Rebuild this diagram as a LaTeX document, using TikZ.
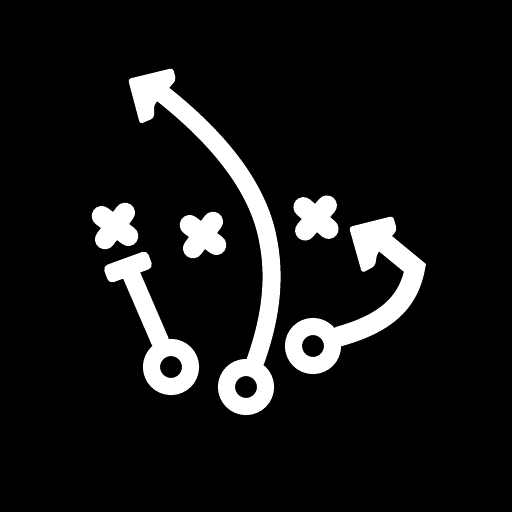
\documentclass[tikz,border=0pt]{standalone}
\usepackage{tikz}
\usetikzlibrary{shapes.misc}

\begin{document}
\begin{tikzpicture}[x=0.01cm, y=-0.01cm,
    ring/.style={draw=white, circle, line width=0.17cm, minimum size=0.39cm, inner sep=0pt},
    mark x/.style={draw=white, cross out, line width=0.2cm, line cap=round, minimum size=0.235cm, inner sep=0pt, outer sep=0pt},
    tbar/.style={fill=white, rounded corners=0.05cm, minimum width=0.47cm, minimum height=0.185cm, inner sep=0pt},
    route/.style={draw=white, line width=0.18cm, line cap=round, miter limit=10},
    tip/.style={fill=white, rounded corners=0.03cm},
  ]
    % Background
    \fill[black] (0,0) rectangle (512,512);

    % Defenders
    \foreach \i/\x/\y/\r in {a/115/226/8, b/203/235/8, c/316/218/4} {
      \node[mark x, rotate=\r] (mark\i) at (\x,\y) {};
    }

    % Players
    \node[ring] (ringa) at (171,367) {};
    \node[ring] (ringb) at (246,387) {};
    \node[ring] (ringc) at (313,346) {};

    % Block route
    \node[tbar, rotate=20] (blockbar) at (128,267) {};
    \draw[route] (ringa.113) -- (blockbar.center);

    % Long route
    \coordinate (longend) at (160,92);
    \draw[route] (ringb.70) .. controls (270,320) and (276,280) .. (268,240)
      .. controls (258,185) and (215,135) .. (longend);
    \fill[tip] (128,79) -- (173,68) -- (176,80) -- (154,105) -- (154,118) -- (140,124) -- cycle;

    % Short route
    \coordinate (shortend) at (381,240);
    \draw[route, line width=0.2cm] (ringc.20) .. controls (383,324) and (408,305) .. (415,268) -- (shortend);
    \fill[tip] (349,227) -- (393,216) -- (397,230) -- (377,254) -- (375,266) -- (362,273) -- cycle;
\end{tikzpicture}
\end{document}
